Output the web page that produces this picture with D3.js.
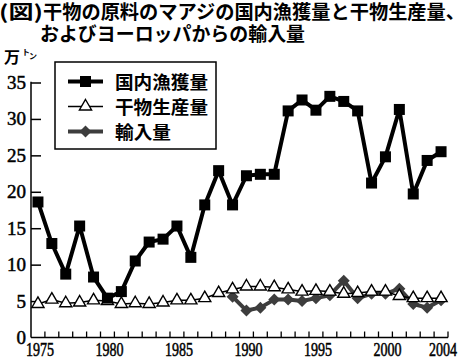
<!DOCTYPE html>
<html>
<head>
<meta charset="utf-8">
<script src="https://cdn.jsdelivr.net/npm/d3@7"></script>
<style>
  html, body { margin: 0; padding: 0; background: #fff; }
  svg { display: block; }
</style>
</head>
<body>
<svg id="chart" width="465" height="358"></svg>
<script>
// ---- data ----
const years = d3.range(1975, 2005);
const domesticCatch = [18.6, 12.9, 8.7, 15.3, 8.3, 5.4, 6.3, 10.5, 13.1, 13.5,
  15.3, 11.0, 18.2, 22.9, 18.2, 22.2, 22.4, 22.4, 31.1, 32.6,
  31.2, 33.1, 32.4, 31.1, 21.2, 24.8, 31.3, 19.7, 24.3, 25.5];
const driedProduction = [4.6, 5.2, 4.7, 4.8, 5.1, 5.0, 4.6, 4.7, 4.6, 4.8,
  5.1, 5.1, 5.4, 6.1, 6.6, 7.0, 7.0, 6.9, 6.6, 6.3,
  6.4, 6.3, 6.0, 6.1, 6.3, 6.3, 5.7, 5.4, 5.4, 5.4];
const importYears = d3.range(1989, 2005);
const imports = [5.6, 3.7, 4.1, 5.2, 5.2, 5.0, 5.4, 5.8, 7.8, 5.4,
  6.0, 6.0, 6.7, 4.6, 4.1, 5.1];
const yTicks = [0, 5, 10, 15, 20, 25, 30, 35];
const xTickLabels = [1975, 1980, 1985, 1990, 1995, 2000, 2004];
const titleLine1a = "(図)";
const titleLine1b = "干物の原料のマアジの国内漁獲量と干物生産量、";
const titleLine2 = "およびヨーロッパからの輸入量";
const legendNames = ["国内漁獲量", "干物生産量", "輸入量"];

// ---- layout ----
(function () {
const svg = d3.select("#chart");
const mLeft = 31, mRight = 448, mTop = 82.5, mBottom = 337.5;
const x = d3.scaleBand().domain(years).range([mLeft, mRight]).padding(0);
const cx = yr => x(yr) + x.bandwidth() / 2;
const y = d3.scaleLinear().domain([0, 35]).range([mBottom, mTop]);

const jp = "'Noto Sans CJK JP', 'Noto Sans', sans-serif";
const serif = "'Liberation Serif', 'DejaVu Serif', serif";

// ---- title ----
svg.append("text").attr("x", -1).attr("y", 18.5)
  .attr("font-family", jp).attr("font-weight", 700).attr("font-size", 19)
  .attr("textLength", 44).attr("lengthAdjust", "spacingAndGlyphs")
  .text(titleLine1a);
svg.append("text").attr("x", 43).attr("y", 18.5)
  .attr("font-family", jp).attr("font-weight", 700).attr("font-size", 19)
  .attr("textLength", 422).attr("lengthAdjust", "spacingAndGlyphs")
  .text(titleLine1b);
svg.append("text").attr("x", 40).attr("y", 40.5)
  .attr("font-family", jp).attr("font-weight", 700).attr("font-size", 19)
  .attr("textLength", 265).attr("lengthAdjust", "spacingAndGlyphs")
  .text(titleLine2);

// unit
svg.append("text").attr("x", 4).attr("y", 63)
  .attr("font-family", jp).attr("font-weight", 700).attr("font-size", 16).text("万");
svg.append("text").attr("x", 22).attr("y", 55)
  .attr("font-family", jp).attr("font-weight", 700).attr("font-size", 8).text("ト");
svg.append("text").attr("x", 29).attr("y", 59)
  .attr("font-family", jp).attr("font-weight", 700).attr("font-size", 8).text("ン");

// ---- axes ----
const yAxis = svg.append("g").attr("transform", `translate(${mLeft},0)`)
  .call(d3.axisRight(y).tickValues(yTicks.filter(v => v > 0)).tickSize(10).tickFormat(""));
yAxis.select(".domain").remove();
yAxis.selectAll(".tick line").attr("stroke", "#000").attr("stroke-width", 1.5);
svg.append("line").attr("x1", mLeft).attr("x2", mLeft).attr("y1", y(35) - 0.75).attr("y2", mBottom)
  .attr("stroke", "#000").attr("stroke-width", 1.5);
svg.append("g").selectAll("text").data(yTicks).join("text")
  .attr("x", 26).attr("y", d => y(d) + 6.5)
  .attr("text-anchor", "end")
  .attr("font-family", serif).attr("font-size", 19)
  .attr("stroke", "#000").attr("stroke-width", 0.5)
  .text(d => d);

svg.append("line").attr("x1", mLeft).attr("x2", mRight).attr("y1", mBottom).attr("y2", mBottom)
  .attr("stroke", "#000").attr("stroke-width", 1.5);
const boundaries = years.map(yr => x(yr) + x.bandwidth());
svg.append("g").selectAll("line").data(boundaries).join("line")
  .attr("x1", d => d).attr("x2", d => d).attr("y1", mBottom).attr("y2", mBottom - 6)
  .attr("stroke", "#000").attr("stroke-width", 1.3);
svg.append("g").selectAll("text").data(xTickLabels).join("text")
  .attr("transform", d => `translate(${cx(d) + 2},355.5) scale(0.78,1)`)
  .attr("text-anchor", "middle")
  .attr("font-family", serif).attr("font-size", 18)
  .attr("stroke", "#000").attr("stroke-width", 0.5)
  .text(d => d);

// ---- series ----
const line = d3.line().x(d => cx(d[0])).y(d => y(d[1]));
const impData = importYears.map((yr, i) => [yr, imports[i]]);
const prodData = years.map((yr, i) => [yr, driedProduction[i]]);
const domData = years.map((yr, i) => [yr, domesticCatch[i]]);

const grey = "#3d3d3d";
const tri = d3.symbol().type(d3.symbolTriangle).size(64);
const dia = d3.symbol().type(d3.symbolSquare).size(72);

svg.append("path").datum(impData).attr("d", line)
  .attr("fill", "none").attr("stroke", grey).attr("stroke-width", 4).attr("stroke-linejoin", "round");
svg.append("g").selectAll("path").data(impData).join("path")
  .attr("transform", d => `translate(${cx(d[0])},${y(d[1])}) rotate(45)`)
  .attr("d", dia).attr("fill", grey);

svg.append("path").datum(prodData).attr("d", line)
  .attr("fill", "none").attr("stroke", "#000").attr("stroke-width", 1.5);
svg.append("g").selectAll("path").data(prodData).join("path")
  .attr("transform", d => `translate(${cx(d[0])},${y(d[1])})`)
  .attr("d", tri).attr("fill", "#fff").attr("stroke", "#000").attr("stroke-width", 1.4);

svg.append("path").datum(domData).attr("d", line)
  .attr("fill", "none").attr("stroke", "#000").attr("stroke-width", 4).attr("stroke-linejoin", "round");
svg.append("g").selectAll("rect").data(domData).join("rect")
  .attr("x", d => cx(d[0]) - 5.5).attr("y", d => y(d[1]) - 5.5)
  .attr("width", 11).attr("height", 11).attr("fill", "#000");

// ---- legend ----
const lg = svg.append("g");
lg.append("rect").attr("x", 55).attr("y", 62).attr("width", 161).attr("height", 87)
  .attr("fill", "#fff").attr("stroke", "#000").attr("stroke-width", 1.5);
const ly = [81.5, 106.5, 131.5];
const lx1 = 68, lx2 = 103, lmx = 85.5;
lg.append("line").attr("x1", lx1).attr("x2", lx2).attr("y1", ly[0]).attr("y2", ly[0])
  .attr("stroke", "#000").attr("stroke-width", 4);
lg.append("rect").attr("x", lmx - 5.5).attr("y", ly[0] - 5.5).attr("width", 11).attr("height", 11).attr("fill", "#000");
lg.append("line").attr("x1", lx1).attr("x2", lx2).attr("y1", ly[1]).attr("y2", ly[1])
  .attr("stroke", "#000").attr("stroke-width", 1.5);
lg.append("path").attr("transform", `translate(${lmx},${ly[1]})`).attr("d", tri)
  .attr("fill", "#fff").attr("stroke", "#000").attr("stroke-width", 1.4);
lg.append("line").attr("x1", lx1).attr("x2", lx2).attr("y1", ly[2]).attr("y2", ly[2])
  .attr("stroke", grey).attr("stroke-width", 4);
lg.append("path").attr("transform", `translate(${lmx},${ly[2]}) rotate(45)`)
  .attr("d", dia).attr("fill", grey);
const lens = [93, 93, 56];
lg.selectAll("text.lab").data(legendNames).join("text")
  .attr("x", 115).attr("y", (d, i) => ly[i] + 7)
  .attr("font-family", jp).attr("font-weight", 700).attr("font-size", 18)
  .attr("textLength", (d, i) => lens[i]).attr("lengthAdjust", "spacingAndGlyphs")
  .text(d => d);
})();
</script>
</body>
</html>
